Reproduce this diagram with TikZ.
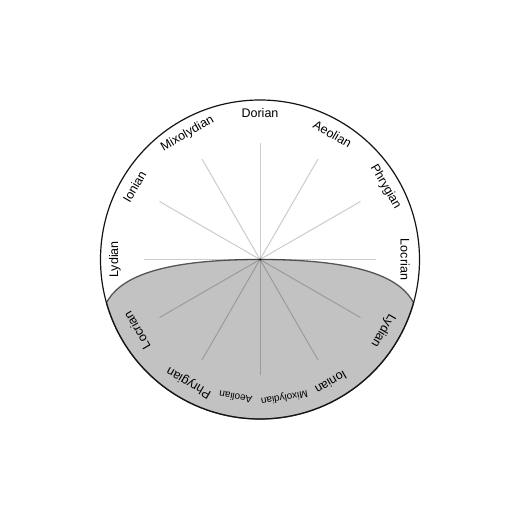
\documentclass[tikz,border=0pt]{standalone}
\usepackage{fontspec}
\setmainfont{Liberation Sans}
\usepackage{xcolor}
\usepackage{tikz}
\usetikzlibrary{positioning, calc}
\definecolor{mydark}{RGB}{20,20,20}
\definecolor{myedge}{RGB}{85,85,85}
\definecolor{myshade}{RGB}{194,194,194}
\tikzset{
  rim/.style={draw=mydark, line width=1.2pt},
  spoke/.style={draw=black, draw opacity=0.2, line width=1pt},
  shade/.style={fill=myshade, draw=myedge, line width=1.3pt},
  mode/.style={font=\fontsize{12.5}{14}\selectfont, inner sep=1pt},
  smallmode/.style={font=\fontsize{10}{12}\selectfont, inner sep=1pt}
}

\begin{document}
\begin{tikzpicture}[x=1pt, y=1pt]
  \useasboundingbox (0,0) rectangle (519,519);
  \coordinate (c) at (260,259.5);

  % Lower shaded half
  \begin{scope}[shift={(c)}]
    \path [shade] (195.7:159.5) arc[start angle=195.7, end angle=344.3, radius=159.5]
      .. controls (142,-22) and (110,0) .. (0,0)
      .. controls (-110,0) and (-142,-22) .. cycle;
  \end{scope}

  % Spokes
  \foreach \a in {0,30,...,330}
    \draw [spoke] (c) -- ++(\a:116);

  % Outer ring
  \draw [rim] (c) circle[radius=159.5];

  % Upper labels
  \node [mode, rotate=90]  (lyd) at ($(c)+(180:145)$) {Lydian};
  \node [mode, rotate=60]  (ion) at ($(c)+(150:145)$) {Ionian};
  \node [mode, rotate=30]  (mix) at ($(c)+(120:145)$) {Mixolydian};
  \node [mode]             (dor) at ($(c)+(90:146)$) {Dorian};
  \node [mode, rotate=-30] (aeo) at ($(c)+(60:145)$) {Aeolian};
  \node [mode, rotate=-60] (phr) at ($(c)+(30:145)$) {Phrygian};
  \node [mode, rotate=-90] (loc) at ($(c)+(0:145)$) {Locrian};

  % Lower labels
  \node [mode, rotate=-120]     (llyd) at ($(c)+(-30:142)$) {Lydian};
  \node [mode, rotate=-150]     (lion) at ($(c)+(-60:142)$) {Ionian};
  \node [smallmode, rotate=-170] (lmix) at ($(c)+(-80:140)$) {Mixolydian};
  \node [smallmode, rotate=170]  (laeo) at ($(c)+(-100:140)$) {Aeolian};
  \node [mode, rotate=150]      (lphr) at ($(c)+(-120:142)$) {Phrygian};
  \node [mode, rotate=120]      (lloc) at ($(c)+(-150:142)$) {Locrian};
\end{tikzpicture}
\end{document}
